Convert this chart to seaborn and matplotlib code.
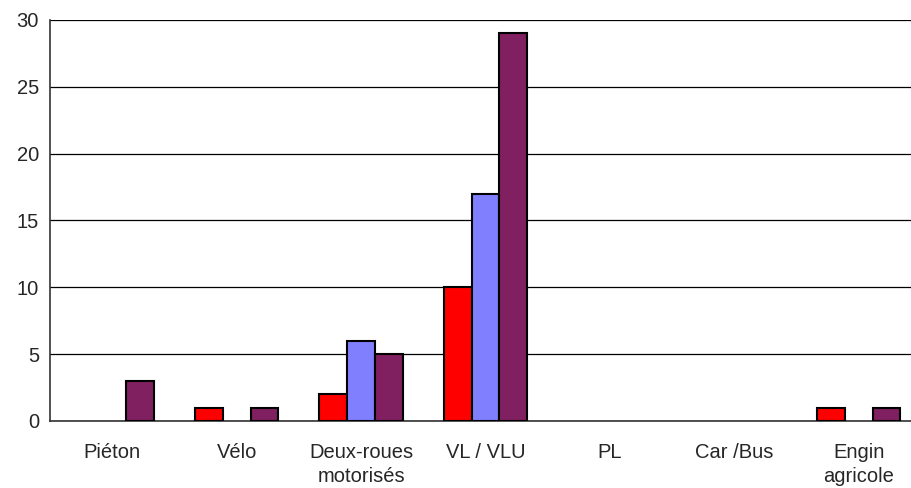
import pandas as pd
import seaborn as sns
import matplotlib.pyplot as plt
import numpy as np

# Data
categories = ["Piéton", "Vélo", "Deux-roues\nmotorisés", "VL / VLU", "PL", "Car /Bus", "Engin\nagricole"]
series_names = ["Série 1", "Série 2", "Série 3"]
serie1 = [0, 1, 2, 10, 0, 0, 1]
serie2 = [0, 0, 6, 17, 0, 0, 0]
serie3 = [3, 1, 5, 29, 0, 0, 1]
colors = ["#FF0000", "#8080FF", "#802060"]

df = pd.DataFrame({
    "categorie": categories * 3,
    "serie": [series_names[0]] * 7 + [series_names[1]] * 7 + [series_names[2]] * 7,
    "valeur": serie1 + serie2 + serie3,
})

sns.set_style("white")
plt.rcParams["font.family"] = ["Liberation Sans", "DejaVu Sans"]

fig = plt.figure(figsize=(9.11, 4.88), dpi=100)
# plot area runs slightly past the right edge of the image, as in the reference
ax = fig.add_axes([50 / 911, 67 / 488, 871 / 911, 401 / 488])

sns.barplot(data=df, x="categorie", y="valeur", hue="serie", palette=colors, saturation=1,
            width=0.67, edgecolor="black", linewidth=1.5, legend=False, ax=ax, zorder=3)

# zero bars are not drawn in the reference
for p in ax.patches:
    if p.get_height() == 0:
        p.set_visible(False)

ax.set_ylim(0, 30)
ax.set_xlim(-0.5, len(categories) - 0.5)
ax.set_yticks(np.arange(0, 31, 5))
ax.yaxis.grid(True, color="black", linewidth=0.9, zorder=0)
ax.set_axisbelow(True)

# x ticks sit on category boundaries, labels in the middle
ax.set_xticks(np.arange(len(categories)) - 0.5, minor=False)
ax.set_xticklabels([])
ax.set_xticks(np.arange(len(categories)), minor=True)
ax.set_xticklabels(categories, minor=True, fontsize=14.5, linespacing=1.35, va="top")
ax.tick_params(axis="x", which="major", direction="out", length=5, color="#333333", width=1)
ax.tick_params(axis="x", which="minor", length=0, pad=16)
ax.tick_params(axis="y", direction="out", length=5, color="#333333", width=1, labelsize=14.5, pad=3)
ax.set_xlabel("")
ax.set_ylabel("")

for side in ["top", "right"]:
    ax.spines[side].set_visible(False)
ax.spines["left"].set_color("#333333")
ax.spines["bottom"].set_color("#333333")
ax.spines["left"].set_linewidth(1.2)
ax.spines["bottom"].set_linewidth(1.2)

fig.savefig("out.png", dpi=100)
